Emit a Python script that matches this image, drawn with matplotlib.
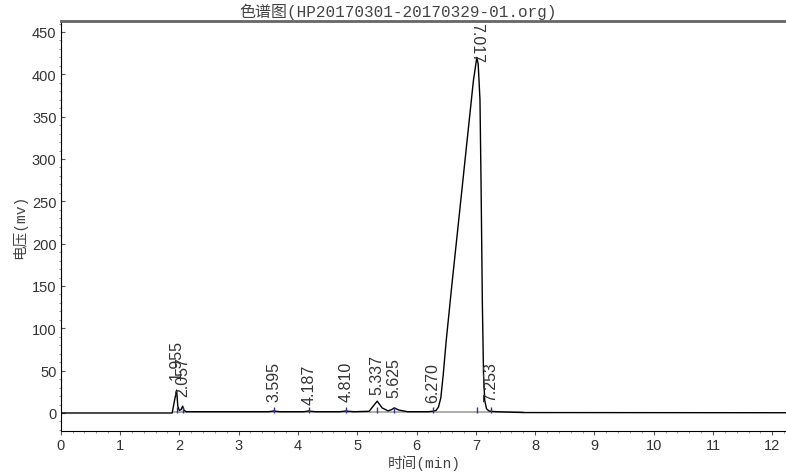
import matplotlib
matplotlib.use("Agg")
import matplotlib.pyplot as plt
from matplotlib.ticker import MultipleLocator

# ---- data ----
time_min = [0, 1.88, 1.92, 1.955, 1.975, 2.00, 2.03, 2.057, 2.08, 2.12, 2.3,
            3.5, 3.56, 3.595, 3.63, 3.7, 4.1, 4.15, 4.187, 4.22, 4.3,
            4.7, 4.77, 4.81, 4.85, 4.95, 5.2, 5.28, 5.337, 5.42, 5.52,
            5.58, 5.625, 5.7, 5.85, 6.2, 6.27, 6.33, 6.37, 6.41, 6.45, 6.5,
            6.6, 6.73, 6.85, 6.96, 7.017, 7.04, 7.07, 7.09, 7.11, 7.13, 7.15,
            7.18, 7.22, 7.253, 7.35, 7.8, 12.3]
signal_mv = [0, 0, 15, 27, 8, 3, 4, 8, 3, 1.5, 1.5,
             1.5, 2, 2.5, 2, 1.5, 1.5, 2, 2.5, 2, 1.5,
             1.5, 2, 2.5, 2, 1.5, 2, 9, 14, 6, 2.5,
             4, 6, 3.5, 1.5, 1.5, 2, 3, 7, 18, 45, 85,
             154, 240, 320, 393, 420, 412, 370, 260, 130, 45, 15,
             5, 2.5, 2, 1.5, 0.5, 0.3]

peak_times = [1.955, 2.057, 3.595, 4.187, 4.810, 5.337, 5.625, 6.270, 7.017, 7.253]
peak_labels = ["1.955", "2.057", "3.595", "4.187", "4.810", "5.337", "5.625", "6.270", "7.017", "7.253"]
label_base = [40, 20, 14, 11, 14, 22, 19, 13, 462, 14]

baseline_t = [1.9, 7.8]
baseline_v = [1.5, 1.5]

title = "色谱图(HP20170301-20170329-01.org)"
xlabel = "时间(min)"
ylabel = "电压(mv)"

mono_cjk = ["Liberation Mono", "Noto Sans CJK SC"]

fig = plt.figure(figsize=(7.86, 4.77), dpi=100)
ax = fig.add_axes([0.0772, 0.0943, 0.9228, 0.8596])

ax.plot(baseline_t, baseline_v, color="#a0a0a0", lw=1.2, zorder=2)
ax.plot(time_min, signal_mv, color="black", lw=1.0, zorder=3)
ax.vlines(peak_times, 0, 7, color="#3030a0", lw=1.0, zorder=4)

for t, lab, yb in zip(peak_times, peak_labels, label_base):
    if yb > 450:
        ax.text(t, yb, lab, rotation=-90, ha="center", va="top", fontsize=11.5,
                family="Liberation Sans", color="#333333", clip_on=True, zorder=5)
    else:
        ax.text(t, yb, lab, rotation=90, ha="center", va="bottom", fontsize=11.5,
                family="Liberation Sans", color="#333333", zorder=5)

ax.set_xlim(0, 12.23)
ax.set_ylim(-21.3, 463)

ax.spines["right"].set_visible(False)
ax.spines["top"].set_color("#666666")
ax.spines["top"].set_linewidth(2.0)
ax.spines["left"].set_color("black")
ax.spines["bottom"].set_color("black")

ax.xaxis.set_major_locator(MultipleLocator(1))
ax.xaxis.set_minor_locator(MultipleLocator(0.2))
ax.yaxis.set_major_locator(MultipleLocator(50))
ax.yaxis.set_minor_locator(MultipleLocator(10))
ax.tick_params(axis="both", which="major", length=3, width=0.8, color="#555555",
               labelsize=10.5, labelcolor="#333333", pad=2)
ax.tick_params(axis="both", which="minor", length=1.5, width=0.6, color="#888888")
ax.tick_params(axis="x", direction="out")
ax.tick_params(axis="y", direction="in")
for lbl in ax.get_xticklabels() + ax.get_yticklabels():
    lbl.set_family("Liberation Sans")
ax.tick_params(axis="y", pad=3)

fig.text(0.507, 0.975, title, ha="center", va="center", fontsize=11.5,
         family=mono_cjk, color="#444444")
fig.text(0.54, 0.028, xlabel, ha="center", va="center", fontsize=10.5,
         family=mono_cjk, color="#444444")
fig.text(0.025, 0.524, ylabel, ha="center", va="center", rotation=90,
         fontsize=10.5, family=mono_cjk, color="#444444")

fig.savefig("out.png", dpi=100)
